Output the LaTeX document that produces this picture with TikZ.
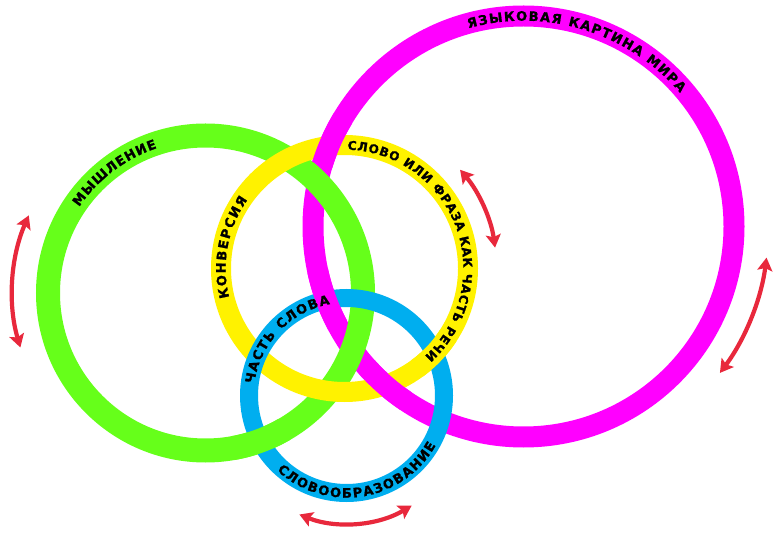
\documentclass[tikz,border=0pt]{standalone}
\usepackage{fontspec}
\setmainfont{DejaVu Sans}
\newfontfamily\ringfam{DejaVu Sans Bold}[FakeBold=1.2]
\usetikzlibrary{arrows.meta,decorations.text}
\definecolor{clrThink}{HTML}{66FF1A}
\definecolor{clrConv}{HTML}{FFF200}
\definecolor{clrWorld}{HTML}{FF00FF}
\definecolor{clrMorph}{HTML}{00AEEF}
\definecolor{clrSwing}{HTML}{E8283C}
\newcommand\ringfont{\ringfam\fontsize{13}{13}\selectfont}
\newcommand\longringfont{\ringfam\fontsize{12.2}{12.2}\selectfont}
\tikzset{
  ringline/.style={line width=#1},
  ringtext/.style={decorate, decoration={text along path,
    text align=fit to path, raise=-4.7pt, text={#1}}},
  swing/.style={{Stealth[length=13pt,width=15pt,inset=2.5pt]}-{Stealth[length=13pt,width=15pt,inset=2.5pt]},
    line width=4.2pt, clrSwing},
}

\begin{document}
\begin{tikzpicture}[x=1pt,y=1pt]

\fill[white] (0,0) rectangle (773,533);
\useasboundingbox (0,0) rectangle (773,533);

\def\rThink{157.5}
\def\rConv{123.5}
\def\rWorld{210.5}
\def\rMorph{97.5}

\coordinate (think) at (205.5,240);
\coordinate (conv)  at (344.5,264.5);
\coordinate (world) at (523.5,306.5);
\coordinate (morph) at (346.5,137.5);

% ── rings ──────────────────────────────────────────────────────────────────
\draw[ringline=21pt, clrWorld] (world) circle[radius=\rWorld];
\draw[ringline=24pt, clrThink] (think) circle[radius=\rThink];
\draw[ringline=20pt, clrConv]  (conv)  circle[radius=\rConv];
\draw[ringline=18pt, clrMorph] (morph) circle[radius=\rMorph];

% the rings weave over and under: redraw the pieces that lie on top
\draw[ringline=20pt, clrConv]  (conv)  ++(-33:\rConv)  arc[start angle=-33, end angle=-54, radius=\rConv];
\draw[ringline=24pt, clrThink] (think) ++(-60:\rThink) arc[start angle=-60, end angle=-80, radius=\rThink];
\draw[ringline=21pt, clrWorld] (world) ++(149:\rWorld) arc[start angle=149, end angle=163, radius=\rWorld];
\draw[ringline=21pt, clrWorld] (world) ++(192:\rWorld) arc[start angle=192, end angle=208, radius=\rWorld];
\draw[ringline=21pt, clrWorld] (world) ++(222:\rWorld) arc[start angle=222, end angle=236, radius=\rWorld];

% ── texts on the rings ─────────────────────────────────────────────────────
\path[ringtext={|\ringfont|ЯЗЫКОВАЯ КАРТИНА МИРА}]
  (world) ++(105.5:\rWorld) arc[start angle=105.5, end angle=40.5, radius=\rWorld];
\path[ringtext={|\ringfont|МЫШЛЕНИЕ}]
  (think) ++(145.7:\rThink) arc[start angle=145.7, end angle=108.5, radius=\rThink];
\path[ringtext={|\ringfont|КОНВЕРСИЯ}]
  (conv) ++(194:\rConv) arc[start angle=194, end angle=144.7, radius=\rConv];
\path[ringtext={|\longringfont|СЛОВО ИЛИ ФРАЗА КАК ЧАСТЬ РЕЧИ}]
  (conv) ++(88.5:\rConv) arc[start angle=88.5, end angle=-47.5, radius=\rConv];
\path[ringtext={|\ringfont|ЧАСТЬ СЛОВА}]
  (morph) ++(172.6:\rMorph) arc[start angle=172.6, end angle=100.3, radius=\rMorph];
\path[ringtext={|\ringfont|СЛОВООБРАЗОВАНИЕ}]
  (morph) ++(227:\rMorph) arc[start angle=227, end angle=331, radius=\rMorph];

% ── swing arrows ───────────────────────────────────────────────────────────
\draw[swing] (think) ++(156.3:193) arc[start angle=156.3, end angle=196.4, radius=193];
\draw[swing] (conv)  ++(40.5:152)  arc[start angle=40.5, end angle=7.9, radius=152];
\draw[swing] (world) ++(-7.3:245)  arc[start angle=-7.3, end angle=-36.7, radius=245];
\draw[swing] (morph) ++(248.4:128) arc[start angle=248.4, end angle=300.6, radius=128];

\end{tikzpicture}
\end{document}
